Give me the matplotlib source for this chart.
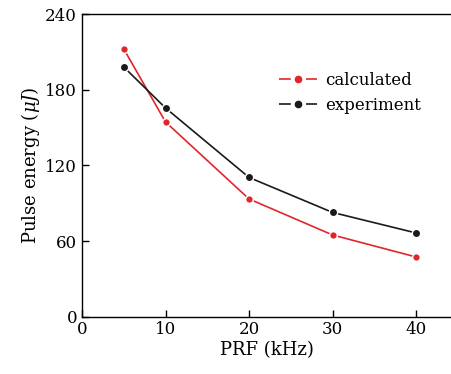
import matplotlib
matplotlib.use("Agg")
import matplotlib.pyplot as plt
from matplotlib.lines import Line2D

prf = [5, 10, 20, 30, 40]
calculated = [212.6, 154.6, 93.4, 64.8, 47.3]
experiment = [198.3, 165.7, 110.5, 82.7, 66.4]
xticks = [0, 10, 20, 30, 40]
yticks = [0, 60, 120, 180, 240]

plt.rcParams['font.family'] = ['DejaVu Serif']
plt.rcParams['mathtext.fontset'] = 'dejavuserif'
plt.rcParams['lines.scale_dashes'] = False

red = '#e0262b'
blk = '#1a1a1a'

fig = plt.figure(figsize=(4.52, 3.74), dpi=100)
ax = fig.add_axes([0.1814, 0.1537, 0.8186, 0.8076])

ax.plot(prf, calculated, color=red, lw=1.2, marker='o', ms=5.5,
        mec='white', mew=1.0, zorder=3)
ax.plot(prf, experiment, color=blk, lw=1.2, marker='o', ms=6,
        mec='white', mew=1.0, zorder=3)

ax.set_xlim(0, 44.3)
ax.set_ylim(0, 240)
ax.set_xticks(xticks)
ax.set_yticks(yticks)
ax.tick_params(direction='in', length=5, width=1, labelsize=12, top=False, right=False)
ax.spines['right'].set_visible(False)
for s in ['left', 'bottom', 'top']:
    ax.spines[s].set_linewidth(1.0)

ax.set_xlabel('PRF (kHz)', fontsize=13, labelpad=2)
ax.set_ylabel(r'Pulse energy ($\mu J$)', fontsize=13, labelpad=2)

dash = (0, (8.5, 11, 20, 1))
handles = [
    Line2D([], [], color=red, lw=1.2, ls=dash, marker='o', ms=4.5, mec=red),
    Line2D([], [], color=blk, lw=1.2, ls=dash, marker='o', ms=4.5, mec=blk),
]
leg = ax.legend(handles, ['calculated', 'experiment'], loc='upper left',
                bbox_to_anchor=(0.5, 0.848), frameon=False,
                fontsize=12, handlelength=2.33, handletextpad=0.45,
                labelspacing=0.45, borderpad=0.2)

fig.savefig('out.png', dpi=100)
